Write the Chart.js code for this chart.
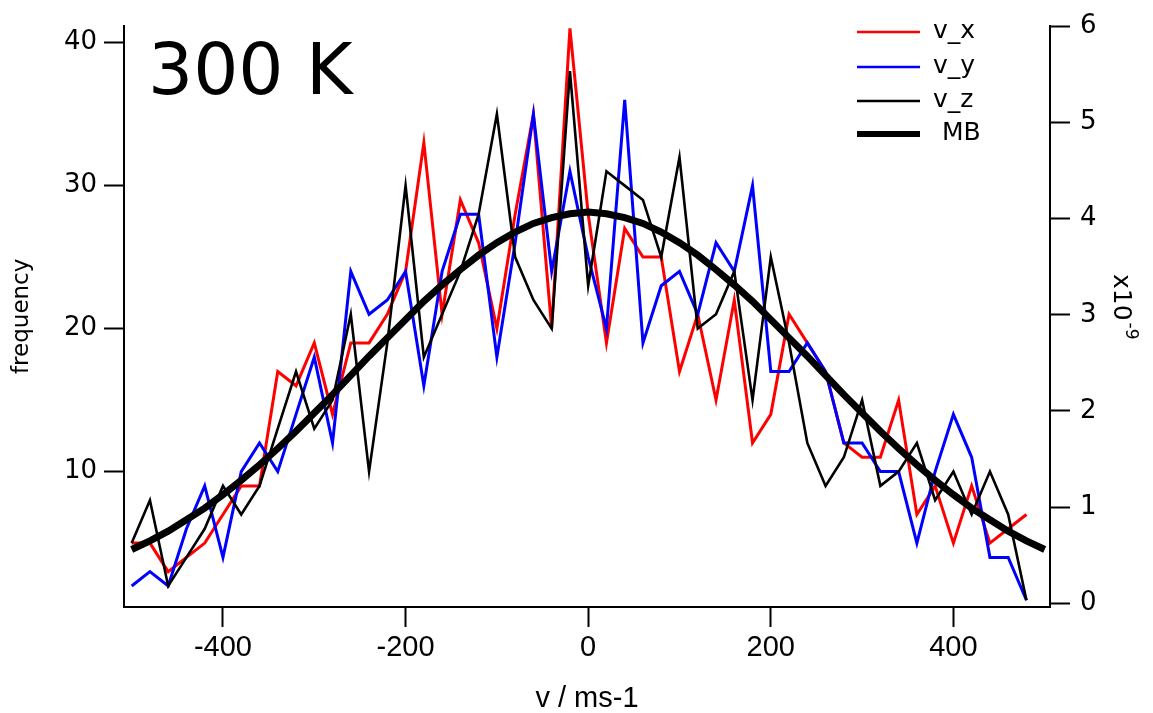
<!DOCTYPE html>
<html>
<head>
<meta charset="utf-8">
<script src="https://cdn.jsdelivr.net/npm/chart.js@4.4.1/dist/chart.umd.min.js"></script>
<style>
  html, body { margin: 0; padding: 0; background: #fff; }
  canvas { display: block; }
</style>
</head>
<body>
<canvas id="chart" width="1153" height="713"></canvas>
<script>
// histogram bins (m/s)
const binVelocity = [-500, -480, -460, -440, -420, -400, -380, -360, -340, -320,
  -300, -280, -260, -240, -220, -200, -180, -160, -140, -120,
  -100, -80, -60, -40, -20, 0, 20, 40, 60, 80,
  100, 120, 140, 160, 180, 200, 220, 240, 260, 280,
  300, 320, 340, 360, 380, 400, 420, 440, 460, 480];

const vxCounts = [5, 5, 3, 4, 5, 7, 9, 9, 17, 16,
  19, 14, 19, 19, 21, 24, 33, 21, 29, 26,
  20, 28, 35, 20, 41, 28, 19, 27, 25, 25,
  17, 21, 15, 22, 12, 14, 21, 19, 17, 12,
  11, 11, 15, 7, 9, 5, 9, 5, 6, 7];

const vyCounts = [2, 3, 2, 6, 9, 4, 10, 12, 10, 14,
  18, 12, 24, 21, 22, 24, 16, 24, 28, 28,
  18, 26, 35, 24, 31, 25, 20, 36, 19, 23,
  24, 21, 26, 24, 30, 17, 17, 19, 17, 12,
  12, 10, 10, 5, 10, 14, 11, 4, 4, 1];

const vzCounts = [5, 8, 2, 4, 6, 9, 7, 9, 13, 17,
  13, 15, 21, 10, 19, 30, 18, 21, 24, 28,
  35, 25, 22, 20, 38, 23, 31, 30, 29, 25,
  32, 20, 21, 24, 15, 25, 19, 12, 9, 11,
  15, 9, 10, 12, 8, 10, 7, 10, 7, 1];

// Maxwell-Boltzmann curve, right axis (x10^-9)
const mbVelocity = [-500, -480, -460, -440, -420, -400, -380, -360, -340, -320,
  -300, -280, -260, -240, -220, -200, -180, -160, -140, -120,
  -100, -80, -60, -40, -20, 0, 20, 40, 60, 80,
  100, 120, 140, 160, 180, 200, 220, 240, 260, 280,
  300, 320, 340, 360, 380, 400, 420, 440, 460, 480, 500];

const mbDensity = [0.56, 0.65, 0.75, 0.87, 0.99, 1.13, 1.28, 1.44, 1.61, 1.79,
  1.98, 2.17, 2.37, 2.57, 2.76, 2.95, 3.14, 3.31, 3.47, 3.62,
  3.75, 3.86, 3.95, 4.01, 4.05, 4.07, 4.05, 4.01, 3.95, 3.86,
  3.75, 3.62, 3.47, 3.31, 3.14, 2.95, 2.76, 2.57, 2.37, 2.17,
  1.98, 1.79, 1.61, 1.44, 1.28, 1.13, 0.99, 0.87, 0.75, 0.65, 0.56];

const xTickValues = [-400, -200, 0, 200, 400];
const leftTickValues = [10, 20, 30, 40];
const rightTickValues = [0, 1, 2, 3, 4, 5, 6];
const seriesNames = ['v_x', 'v_y', 'v_z', 'MB'];
const plotTitle = '300 K';

function toPoints(xs, ys) {
  return xs.map((x, i) => ({x: x, y: ys[i]}));
}

function fixedTicks(values) {
  return scale => { scale.ticks = values.map(v => ({value: v})); };
}

const axisLine = {display: true, color: '#000', width: 2};
const tickMarks = {drawOnChartArea: false, drawTicks: true, tickLength: 20, tickWidth: 2, tickColor: '#000'};

// title, right axis exponent and legend are drawn on top of the chart
const decorations = {
  id: 'decorations',
  afterDraw(chart) {
    const ctx = chart.ctx;
    ctx.save();
    ctx.fillStyle = '#000';

    ctx.font = '71px "DejaVu Sans"';
    ctx.textAlign = 'left';
    ctx.textBaseline = 'alphabetic';
    ctx.fillText(plotTitle, 148, 94);

    // "x10^-9" written top to bottom
    ctx.save();
    ctx.translate(1114, 274);
    ctx.rotate(Math.PI / 2);
    ctx.font = '25px "DejaVu Sans"';
    ctx.fillText('x10', 0, 0);
    const w = ctx.measureText('x10').width;
    ctx.font = '17px "DejaVu Sans"';
    ctx.fillText('-9', w + 2, -12);
    ctx.restore();

    // legend
    const rows = [32, 67, 101, 134];
    ctx.font = '25px "DejaVu Sans"';
    ctx.textBaseline = 'middle';
    chart.data.datasets.forEach((ds, i) => {
      const y = rows[i];
      ctx.strokeStyle = ds.borderColor;
      ctx.lineWidth = ds.label === 'MB' ? 6 : 2.5;
      ctx.beginPath();
      ctx.moveTo(857, y);
      ctx.lineTo(920, y);
      ctx.stroke();
      ctx.fillText(ds.label, ds.label === 'MB' ? 942 : 933, y - 1);
    });
    ctx.restore();
  }
};

const ctx = document.getElementById('chart').getContext('2d');
new Chart(ctx, {
  type: 'line',
  data: {
    datasets: [
      {label: seriesNames[0], data: toPoints(binVelocity, vxCounts), borderColor: '#ff0000', borderWidth: 3, yAxisID: 'y', order: 3},
      {label: seriesNames[1], data: toPoints(binVelocity, vyCounts), borderColor: '#0000ff', borderWidth: 3, yAxisID: 'y', order: 2},
      {label: seriesNames[2], data: toPoints(binVelocity, vzCounts), borderColor: '#000000', borderWidth: 2.6, yAxisID: 'y', order: 1},
      {label: seriesNames[3], data: toPoints(mbVelocity, mbDensity), borderColor: '#000000', borderWidth: 7, yAxisID: 'yMB', order: 0}
    ]
  },
  options: {
    responsive: false,
    animation: false,
    devicePixelRatio: 1,
    elements: {
      point: {radius: 0},
      line: {tension: 0, fill: false, borderJoinStyle: 'miter'}
    },
    layout: {
      padding: {top: 15, left: 0, right: 0, bottom: 0}
    },
    scales: {
      x: {
        type: 'linear',
        position: 'bottom',
        min: -508.4,
        max: 505.8,
        afterBuildTicks: fixedTicks(xTickValues),
        afterFit: s => { s.height = 106; },
        border: axisLine,
        grid: tickMarks,
        ticks: {color: '#000', font: {family: 'Liberation Sans', size: 29}, padding: 4, maxRotation: 0},
        title: {
          display: true,
          text: 'v / ms-1',
          color: '#000',
          font: {family: 'Liberation Sans', size: 29, lineHeight: 1},
          padding: {top: 0, bottom: 0}
        }
      },
      y: {
        type: 'linear',
        position: 'left',
        min: 0.53,
        max: 41.19,
        afterBuildTicks: fixedTicks(leftTickValues),
        afterFit: s => { s.width = 124; },
        border: axisLine,
        grid: tickMarks,
        ticks: {color: '#000', font: {family: 'DejaVu Sans', size: 26}, padding: 7},
        title: {
          display: true,
          text: 'frequency',
          color: '#000',
          font: {family: 'DejaVu Sans', size: 23, lineHeight: 1.2},
          padding: {top: 8, bottom: 0}
        }
      },
      yMB: {
        type: 'linear',
        position: 'right',
        min: -0.038,
        max: 6.007,
        afterBuildTicks: fixedTicks(rightTickValues),
        afterFit: s => { s.width = 103; },
        border: axisLine,
        grid: tickMarks,
        ticks: {color: '#000', font: {family: 'DejaVu Sans', size: 26}, padding: 10}
      }
    },
    plugins: {
      legend: {display: false},
      tooltip: {enabled: false}
    }
  },
  plugins: [decorations]
});
</script>
</body>
</html>
